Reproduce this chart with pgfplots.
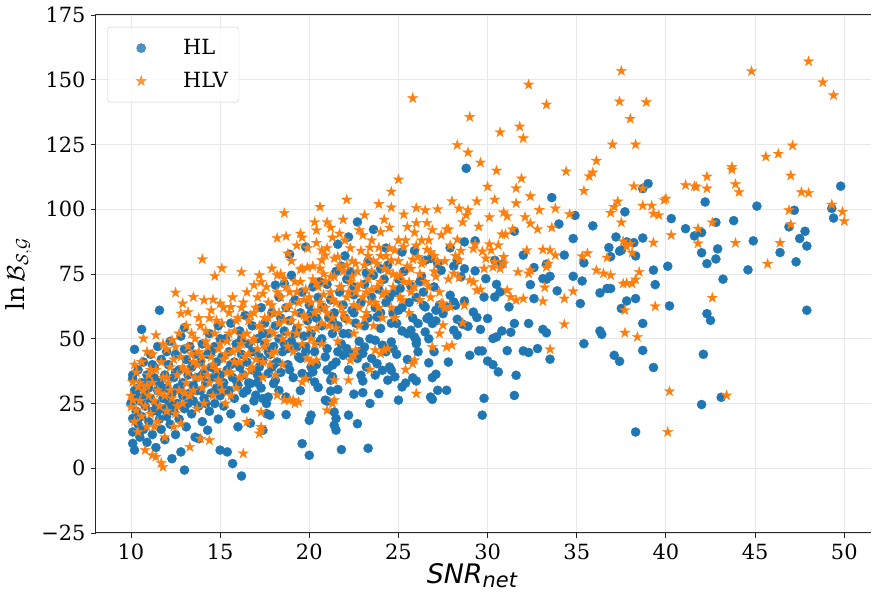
\documentclass[border=0pt]{standalone}
\usepackage{fontspec}
\setmainfont{DejaVu Serif}
\newfontfamily\dvs{DejaVu Sans}
\usepackage{pgfplots}
\pgfplotsset{compat=1.18}
\definecolor{tabblue}{HTML}{1F77B4}
\definecolor{taborange}{HTML}{FF7F0E}
\pgfdeclareplotmark{mstar}{%
  \pgfpathmoveto{\pgfpointpolar{90}{\pgfplotmarksize}}%
  \pgfpathlineto{\pgfpointpolar{126}{0.382\pgfplotmarksize}}%
  \pgfpathlineto{\pgfpointpolar{162}{\pgfplotmarksize}}%
  \pgfpathlineto{\pgfpointpolar{198}{0.382\pgfplotmarksize}}%
  \pgfpathlineto{\pgfpointpolar{234}{\pgfplotmarksize}}%
  \pgfpathlineto{\pgfpointpolar{270}{0.382\pgfplotmarksize}}%
  \pgfpathlineto{\pgfpointpolar{306}{\pgfplotmarksize}}%
  \pgfpathlineto{\pgfpointpolar{342}{0.382\pgfplotmarksize}}%
  \pgfpathlineto{\pgfpointpolar{18}{\pgfplotmarksize}}%
  \pgfpathlineto{\pgfpointpolar{54}{0.382\pgfplotmarksize}}%
  \pgfpathclose
  \pgfusepathqfillstroke
}
\begin{document}
\begin{tikzpicture}
\begin{axis}[
  scale only axis, width=775bp, height=518bp,
  xmin=8.04, xmax=51.5, ymin=-25, ymax=175,
  xtick={10,15,20,25,30,35,40,45,50},
  xticklabels={10,15,20,25,30,35,40,45,50},
  ytick={-25,0,25,50,75,100,125,150,175},
  yticklabels={−25,0,25,50,75,100,125,150,175},
  tick pos=left, tick align=outside, major tick length=5bp,
  tick style={black!85, line width=0.9bp},
  grid=major, grid style={black!9, line width=0.9bp},
  axis line style={draw=none},
  ticklabel style={font=\fontsize{21}{25}\selectfont},
  xticklabel style={yshift=-2bp},
  yticklabel style={xshift=-2bp},
  xlabel={{\dvs\itshape SNR\raisebox{-4bp}{\fontsize{21}{22}\selectfont net}}},
  xlabel style={at={(axis description cs:0.485,0)}, anchor=base, yshift=-50bp, inner sep=0pt, font=\fontsize{27}{30}\selectfont},
  ylabel={$\ln\mathcal{B}_{\mathcal{S},\mathcal{G}}$},
  ylabel style={at={(axis description cs:-0.1,0.5)}, anchor=center, font=\fontsize{25}{30}\selectfont},
  legend style={at={(axis description cs:0.0142,0.977)}, anchor=north west,
    draw=black!20, fill=white, fill opacity=0.8, draw opacity=1, text opacity=1,
    rounded corners=3bp, inner xsep=6bp, inner ysep=4.5bp,
    nodes={inner xsep=5bp, inner ysep=0pt}, column sep=9bp,
    font=\fontsize{21}{25}\selectfont},
  legend cell align=left,
  legend image code/.code={\path[draw=none,fill=none] (-28bp,-16.5bp) rectangle (28bp,16.5bp);
    \draw[#1] plot coordinates {(0bp,0bp)};},
  after end axis/.code={
    \draw[black!85, line width=1bp] (rel axis cs:1,1) -- (rel axis cs:0,1) -- (rel axis cs:0,0) -- (rel axis cs:1,0);
  },
]
\addplot[only marks, mark=*, mark size=4.6bp, color=tabblue, mark options={fill=tabblue, draw=tabblue, line width=0.3bp}] coordinates {
(10.0,25) (10.1,36) (10.1,34.6) (10.1,19.2) (10.1,14.0) (10.1,9.6) (10.2,7.0) (10.2,45.9) (10.6,53.6) (11.6,61.0)
(10.2,30) (10.3,22) (10.3,28) (10.4,17) (10.4,38) (10.5,12) (10.5,26) (10.6,33) (10.6,20) (10.7,41) (10.7,15)
(10.8,29) (10.8,24) (10.9,36) (10.9,10) (11.0,31) (11.0,18) (11.1,44) (11.1,27) (11.2,22) (11.2,13) (11.3,35)
(11.3,39) (11.4,25) (11.4,8) (11.5,30) (11.5,47) (11.6,19) (11.6,33) (11.7,15) (11.7,42) (11.8,27) (11.8,23)
(11.9,36) (11.9,11) (12.0,31) (12.0,20) (12.3,3.7) (12.8,6.3) (13.0,-0.7) (12.1,26) (12.1,40) (12.2,17) (12.2,49)
(12.3,29) (12.4,35) (12.4,22) (12.5,44) (12.5,13) (12.6,31) (12.6,25) (12.7,38) (12.7,19) (12.8,51) (12.9,28)
(12.9,33) (13.0,54.3) (13.0,23) (13.1,42) (13.1,16) (13.2,36) (13.3,29) (13.3,47) (13.4,21) (13.4,39) (13.5,32)
(13.5,26) (13.6,44) (13.6,12) (13.7,35) (13.8,11.4) (13.8,24) (13.9,41) (13.9,30) (14.0,18) (14.0,48) (14.1,37)
(14.1,27) (14.2,33) (14.3,14.7) (14.3,44) (14.4,22) (14.4,52) (14.5,39) (14.5,29) (14.6,35) (14.7,25) (14.7,47)
(14.8,31) (14.8,41) (14.9,19) (14.9,55) (15.0,7.0) (15.0,36) (15.0,28) (15.1,43) (15.2,33) (15.2,24) (15.3,50)
(15.4,6.3) (15.4,38) (15.5,30) (15.5,45) (15.6,21) (15.6,56) (15.7,1.8) (15.7,35) (15.8,41) (15.8,27) (15.9,48)
(16.0,32) (16.0,16) (16.1,39) (16.2,-3.0) (16.1,53) (16.2,44) (16.3,29) (16.3,36) (16.4,59) (16.4,23) (16.5,41)
(16.6,48) (16.6,33) (16.7,17.4) (16.7,32.7) (16.8,38) (16.8,55) (16.9,26) (17.0,28.2) (17.0,45) (17.1,50) (17.1,36)
(17.2,43) (17.2,39.1) (17.3,62) (17.3,31) (17.4,41.7) (17.4,14.7) (17.4,26.9) (17.5,48) (17.5,56) (17.6,21.1)
(17.6,25.0) (17.7,36.6) (17.7,27.5) (17.7,52) (17.8,20.5) (17.8,44) (17.9,60) (17.9,39) (18.0,32.7) (18.0,47)
(18.1,34.0) (18.1,70.7) (18.1,55) (18.2,41) (18.3,66.1) (18.3,50) (18.4,58) (18.4,37) (18.5,45) (18.6,71.3)
(18.6,53) (18.7,20.7) (18.7,27.5) (18.7,62) (18.8,46.2) (18.8,40) (18.9,82.6) (18.9,57) (19.0,74.5) (19.0,49)
(19.1,35) (19.2,65) (19.3,46.8) (19.3,54) (19.4,43) (19.5,42.4) (19.5,60) (19.6,9.5) (19.6,36.6) (19.6,68)
(19.7,51) (19.8,85.4) (19.8,47) (19.9,35.3) (19.9,57) (20.0,5.0) (20.0,18.5) (20.0,63) (20.1,20.5) (20.1,39.1)
(20.1,52) (20.2,37.2) (20.2,70) (20.3,33.3) (20.3,45) (20.4,58) (20.5,31.2) (20.5,66) (20.6,49) (20.7,55) (20.8,62)
(20.9,26.3) (20.9,43) (21.0,25.9) (21.0,46.2) (21.0,71) (21.1,58) (21.2,29.8) (21.2,34.0) (21.2,65) (21.3,35.3)
(21.3,39.8) (21.3,52) (21.4,16.6) (21.4,21.7) (21.4,60) (21.5,19.2) (21.5,41.0) (21.5,14.7) (21.5,76) (21.6,30.4)
(21.6,86.5) (21.6,55) (21.7,68) (21.8,7.2) (21.8,48) (21.9,43.6) (21.9,63) (22.0,58) (22.1,46.2) (22.1,73)
(22.2,20.5) (22.2,89.3) (22.2,52) (22.3,44.3) (22.3,75.8) (22.4,61) (22.5,28.6) (22.5,67) (22.6,56) (22.7,17.2)
(22.7,42.4) (22.7,95.1) (22.8,49) (22.9,35.9) (22.9,64) (23.0,29.2) (23.0,33.7) (23.0,44.3) (23.1,46.8) (23.1,71)
(23.2,39.1) (23.2,75.4) (23.3,7.7) (23.3,58) (23.4,25.0) (23.5,42.4) (23.5,66) (23.6,74.5) (23.6,92.2) (23.7,49.4)
(23.7,62) (23.8,40.4) (23.8,58.4) (23.9,28.8) (23.9,69) (24.0,54) (24.1,47.5) (24.1,37.8) (24.2,73) (24.3,64)
(24.4,34.0) (24.4,78.4) (24.5,39.1) (24.6,37.8) (24.6,48.8) (24.6,46.8) (24.7,46.2) (24.7,59.7) (24.8,35.3) (24.8,68)
(24.9,55.9) (25.0,26.3) (25.0,61.0) (25.1,69.4) (25.2,31.4) (25.2,53.0) (25.2,83.5) (25.3,76) (25.4,32.9) (25.5,52.0)
(25.6,64) (25.7,53.3) (25.7,70.3) (25.8,34.9) (25.9,50.7) (26.0,33.7) (26.0,48.1) (26.0,49.4) (26.1,55.9) (26.2,72)
(26.4,62.9) (26.5,52.6) (26.5,62.3) (26.5,80.3) (26.6,57.8) (26.7,40.7) (26.7,58.4) (26.8,27.5) (26.9,26.6) (26.9,35.0)
(26.9,55.9) (27.1,36.3) (27.1,56.9) (27.1,61.0) (27.2,30.1) (27.2,79.0) (27.4,76.4) (27.5,59.7) (27.7,30.1) (27.7,62.3)
(27.8,41.0) (27.9,66.8) (27.9,85.1) (28.1,53.3) (28.3,51.4) (28.1,64.2) (28.2,62.9) (28.7,64.6) (28.1,78.0) (28.3,80.3)
(28.5,73.9) (28.7,77.0) (28.3,57.5) (28.6,55.6) (28.9,54.8) (28.7,87.4) (29.3,87.8) (28.8,115.8) (29.0,43.6) (29.2,60.3)
(29.3,76.2) (29.4,58.2) (29.5,45.3) (29.7,45.3) (29.6,53.6) (29.7,20.5) (29.8,27.0) (29.8,66.1) (29.9,73.2) (30.0,41.4)
(30.0,57.8) (30.3,40.0) (30.3,50.1) (30.5,50.7) (30.4,66.1) (30.5,71.0) (30.6,37.2) (30.7,68.1) (30.8,53.0) (30.8,78.8)
(30.4,80.3) (31.1,45.4) (31.2,62.3) (31.3,52.5) (31.5,28.1) (31.5,55.9) (31.5,91.5) (31.6,35.9) (32.0,45.3) (32.0,82.3)
(32.3,44.7) (32.3,55.9) (32.4,70.9) (32.6,65.5) (32.6,77.5) (32.8,46.2) (33.1,53.6) (33.1,73.2) (33.3,52.3) (33.3,73.0)
(33.3,78.8) (33.5,42.1) (33.5,74.1) (33.6,104.5) (33.9,68.5) (34.0,94.3) (34.3,82.3) (34.8,74.1) (34.8,88.7) (34.9,97.6)
(35.2,63.6) (35.3,72.3) (35.4,48.1) (35.4,79.3) (35.9,93.6) (36.3,53.0) (36.3,67.7) (36.4,51.7) (36.7,69.4) (36.8,85.2)
(36.9,69.4) (36.9,81.7) (37.1,43.6) (37.2,89.3) (37.4,41.3) (37.4,83.8) (37.5,61.7) (37.5,84.2) (37.7,99.0) (37.8,64.6)
(37.8,87.4) (38.2,87.1) (38.3,14.0) (38.3,65.5) (38.3,82.0) (38.7,55.9) (38.7,45.5) (38.7,108.0) (38.7,88.9) (39.0,109.9)
(39.3,38.9) (39.3,76.5) (39.4,70.9) (40.1,78.0) (40.2,62.7) (40.3,96.4) (41.1,92.5) (41.6,89.7) (42.0,83.2) (42.0,91.0)
(42.0,24.6) (42.1,44.0) (42.2,102.8) (42.3,79.0) (42.3,59.7) (42.5,57.1) (42.8,94.9) (42.8,80.8) (42.9,84.7) (43.1,27.4)
(43.2,73.0) (43.8,95.6) (44.6,76.6) (44.9,87.8) (45.1,101.2) (46.4,83.3) (46.9,93.2) (47.2,99.6) (47.3,79.7) (47.5,88.7)
(47.8,91.5) (47.9,85.8) (47.9,61.0) (49.3,100.3) (49.4,96.6) (49.8,108.9)
(20.6,72) (21.8,78) (22.5,70) (23.3,80) (24.0,77) (25.0,73) (26.0,66) (27.0,70) (26.3,74) (24.5,66) (22.0,82) (24.3,85)
(25.9,84) (26.8,81)
(10.4,31) (10.7,26) (11.0,34) (11.2,40) (11.5,22) (11.8,31) (12.0,45) (12.3,24) (12.5,37) (12.8,30) (13.0,46) (13.2,25)
(13.5,40) (13.7,30) (14.0,36) (14.2,25) (14.5,45) (14.8,37) (15.0,50) (15.3,30) (15.6,40) (15.9,34) (16.2,50) (16.5,30)
(16.8,45) (17.1,33) (17.4,52) (17.7,45) (18.0,40) (18.3,30) (18.6,48) (18.9,38) (19.2,52) (19.5,30) (19.8,45) (20.1,60)
(20.4,40) (20.7,50) (21.0,38) (21.3,57) (21.6,45) (21.9,52) (22.2,38) (22.5,60) (22.8,45) (23.1,55) (23.4,50) (23.7,36)
(24.0,60) (24.3,45) (24.6,56) (24.9,44) (25.2,62) (25.5,42) (25.8,58) (26.1,45) (26.4,68) (26.7,50) (27.0,45) (27.3,63)
};
\addlegendentry{HL}
\addplot[only marks, mark=mstar, mark size=5.4bp, color=taborange, mark options={fill=taborange, draw=taborange, line width=0.3bp}] coordinates {
(10.0,28) (10.0,23.7) (10.1,26.3) (10.1,33.3) (10.2,18) (10.3,22.4) (10.3,37) (10.4,31.4) (10.4,14) (10.5,26) (10.6,41)
(10.6,20) (10.7,50.1) (10.7,30) (10.8,7.0) (10.8,24) (10.9,32.0) (10.9,16) (11.0,36) (11.0,28) (11.1,21) (11.2,5.0)
(11.2,44) (11.2,33) (11.3,26) (11.4,51.4) (11.4,4.4) (11.4,38) (11.5,18) (11.5,30) (11.6,24) (11.7,2.0) (11.7,41)
(11.8,0.5) (11.8,35) (11.9,28) (11.9,12) (12.0,46) (12.0,22) (12.1,33) (12.2,39) (12.3,49.4) (12.3,27) (12.4,16)
(12.5,46.8) (12.5,67.8) (12.5,21.1) (12.6,36) (12.7,30) (12.8,17.2) (12.8,59.7) (12.8,43) (12.9,63.6) (12.9,25) (13.0,38)
(13.1,33) (13.2,60.3) (13.2,47) (13.3,8.2) (13.3,28) (13.4,52) (13.5,66.1) (13.5,41) (13.6,35) (13.7,23) (13.8,45)
(13.9,11.4) (13.9,55) (14.0,80.7) (14.0,31) (14.1,64.9) (14.1,39) (14.2,49) (14.3,36) (14.4,10.8) (14.4,58) (14.5,43)
(14.6,65.1) (14.6,28) (14.7,74.2) (14.7,52) (14.8,38) (14.9,46) (15.0,63.6) (15.0,33) (15.1,77.2) (15.1,56) (15.2,42)
(15.3,25) (15.4,49) (15.5,60) (15.6,62.3) (15.6,37) (15.7,45) (15.8,53) (15.9,31) (16.0,58) (16.1,41) (16.2,75.8)
(16.2,48) (16.3,5.7) (16.3,64) (16.4,36) (16.5,17.9) (16.5,52) (16.6,44) (16.7,59) (16.8,39) (16.9,70.7) (16.9,50)
(17.0,62) (17.1,46) (17.2,13.4) (17.2,55) (17.2,74.5) (17.3,14.7) (17.3,15.9) (17.3,21.7) (17.3,71.9) (17.4,67.4)
(17.4,41) (17.5,58) (17.6,49) (17.7,64) (17.8,53) (17.9,77.1) (17.9,44) (18.0,60) (18.1,36) (18.2,28.2) (18.2,74.5)
(18.2,88.9) (18.3,56) (18.4,66) (18.5,50) (18.6,26.3) (18.6,73.2) (18.6,98.5) (18.7,89.6) (18.7,62) (18.8,82.9)
(18.8,47) (18.9,26.3) (18.9,68) (19.0,57) (19.1,26.3) (19.2,25.0) (19.2,72) (19.3,52) (19.4,25.6) (19.4,64)
(19.5,76.8) (19.5,90.6) (19.6,33.3) (19.6,77.1) (19.6,89.1) (19.7,59) (19.8,34.6) (19.8,69) (19.9,42.4) (19.9,77.5)
(20.0,54) (20.1,41.0) (20.1,64) (20.2,73) (20.3,48) (20.4,41.7) (20.4,71.3) (20.4,87.0) (20.4,91.9) (20.5,61) (20.6,77.1)
(20.6,100.9) (20.7,80.3) (20.7,84.2) (20.7,56) (20.8,67) (20.9,82.2) (20.9,72) (21.0,22.4) (21.0,60) (21.2,73.9)
(21.2,92.9) (21.3,25.0) (21.3,89.1) (21.3,65) (21.4,26.3) (21.4,34.0) (21.4,81.0) (21.5,54) (21.6,81.6) (21.7,90.6)
(21.7,70) (21.8,62) (21.9,76) (22.0,58) (22.1,78.4) (22.1,103.7) (22.2,34.0) (22.2,68) (22.3,41.7) (22.3,85) (22.4,74)
(22.5,43.6) (22.5,63) (22.6,45.6) (22.6,79) (22.7,70) (22.8,55) (22.9,84) (23.0,66) (23.1,78.4) (23.1,97.7) (23.2,60)
(23.3,73) (23.4,38.1) (23.4,85.2) (23.5,69) (23.6,80) (23.7,45.6) (23.7,64) (23.8,79.0) (23.9,85.2) (24.0,44.3)
(24.0,91.2) (24.0,72) (24.1,67) (24.2,45.6) (24.3,82) (24.4,46.2) (24.4,76) (24.5,92.9) (24.6,80.3) (24.6,100.7)
(24.6,106.8) (24.7,70) (24.8,84.2) (24.9,74) (25.0,111.5) (25.0,88) (25.1,74.5) (25.2,65) (25.3,85.4) (25.4,38.1)
(25.5,93.2) (25.5,78) (25.6,71.9) (25.7,68) (25.8,40.4) (25.8,80.6) (25.8,142.9) (25.9,41.7) (26.0,28.8) (26.0,94.7)
(26.0,100.5) (26.1,81.6) (26.2,75) (26.3,88.0) (26.4,79.7) (26.5,99.6) (26.6,84.4) (26.6,94.7) (26.7,70) (26.8,83.5)
(26.9,46.8) (27.0,76) (27.2,79.7) (27.3,52.0) (27.4,90.0) (27.4,63.6) (27.5,55.2) (27.5,63.6) (27.6,61.7) (27.7,46.8)
(27.7,92.3) (27.8,92.2) (27.9,62.3) (28.0,47.5) (28.0,103.1) (28.1,75.2) (28.3,88.3) (28.2,82.0) (28.3,124.8) (28.4,80.3)
(28.5,84.0) (28.4,100.3) (28.4,73.6) (28.6,95.0) (28.6,56.1) (28.7,62.9) (28.8,97.7) (28.9,121.9) (28.9,99.6) (29.0,72.6)
(29.0,135.6) (29.2,71.9) (29.2,84.8) (29.3,86.5) (29.4,68.7) (29.4,103.1) (29.5,93.3) (29.6,69.0) (29.7,83.7) (29.6,118.0)
(29.8,77.1) (29.9,81.0) (30.0,108.7) (30.1,86.5) (30.1,96.9) (30.2,84.2) (30.3,77.7) (30.4,79.7) (30.4,103.7) (30.5,114.9)
(30.6,86.1) (30.7,77.1) (30.7,129.7) (30.8,90.3) (30.9,79.0) (30.9,81.6) (30.9,98.8) (31.0,90.3) (31.1,68.7) (31.1,97.3)
(31.3,66.1) (31.4,92.2) (31.6,64.9) (31.6,102.3) (31.6,108.1) (31.7,75.8) (31.8,131.9) (31.9,111.9) (32.0,65.5) (32.0,127.4)
(32.1,97.0) (32.2,84.2) (32.3,75.2) (32.3,148.1) (32.4,76.4) (32.4,94.5) (32.4,105.0) (32.8,92.3) (32.9,99.7) (33.1,64.5)
(33.1,84.4) (33.2,69.8) (33.3,77.7) (33.3,140.4) (33.4,79.0) (33.5,45.9) (33.5,84.2) (33.6,92.9) (33.8,82.2) (33.8,100.3)
(34.3,55.6) (34.3,65.5) (34.4,114.6) (34.6,98.1) (34.8,68.3) (35.3,81.8) (35.4,107.1) (35.6,83.0) (35.7,112.7) (35.9,114.2)
(36.1,76.4) (36.1,118.7) (36.5,75.2) (36.7,81.3) (36.9,74.5) (36.9,98.6) (37.0,125.0) (37.1,100.9) (37.3,103.0) (37.4,141.6)
(37.5,94.9) (37.5,153.4) (37.6,71.3) (37.6,87.6) (37.7,52.3) (37.7,61.0) (37.8,85.6) (37.8,71.5) (38.0,86.6) (38.0,134.9)
(38.1,71.3) (38.1,83.2) (38.2,108.9) (38.3,72.9) (38.3,125.0) (38.4,50.7) (38.5,75.8) (38.7,101.4) (38.7,108.0) (38.9,141.3)
(39.2,101.4) (39.3,87.1) (39.3,98.3) (39.4,62.5) (39.6,97.7) (39.9,103.5) (40.0,104.1) (40.1,14.0) (40.2,29.7) (40.3,90.0)
(41.1,109.3) (41.6,108.9) (41.7,108.6) (41.8,86.8) (41.8,92.5) (42.3,108.0) (42.3,112.6) (42.6,65.8) (42.6,94.9) (43.4,28.1)
(43.7,115.3) (43.7,116.3) (43.9,87.0) (43.9,109.7) (44.1,106.6) (44.8,153.3) (45.6,120.3) (45.7,78.9) (46.3,121.4) (46.4,87.0)
(46.9,99.6) (47.0,94.1) (47.0,113.0) (47.1,124.6) (47.6,106.6) (48.0,106.3) (48.0,157.1) (48.8,149.0) (49.3,101.8) (49.4,144.0)
(49.9,99.0) (50.0,95.4)
(10.2,40) (10.5,33) (10.9,45) (11.1,38) (11.3,16) (11.6,29) (11.8,48) (12.0,35) (12.2,30) (12.4,42) (12.6,24) (12.7,52)
(12.9,39) (13.0,29) (13.1,55) (13.2,37) (13.4,44) (13.5,30) (13.6,50) (13.7,40) (13.8,58) (13.9,35) (14.0,43) (14.1,25)
(14.2,53) (14.3,47) (14.4,33) (14.5,61) (14.6,40) (14.8,57) (14.9,34) (15.0,48) (15.1,30) (15.2,62) (15.3,44) (15.4,37)
(15.5,52) (15.6,28) (15.7,66) (15.8,41) (15.9,57) (16.0,46) (16.1,35) (16.2,62) (16.3,51) (16.4,43) (16.5,68) (16.6,57)
(16.7,38) (16.8,49) (16.9,60) (17.0,42) (17.1,66) (17.3,54) (17.4,35) (17.5,47) (17.6,70) (17.7,58) (17.8,40) (17.9,63)
(18.0,52) (18.1,45) (18.2,68) (18.3,60) (18.4,75) (18.5,40) (18.6,57) (18.7,70) (18.8,52) (18.9,63) (19.0,80) (19.1,45)
(19.2,60) (19.3,68) (19.4,55) (19.5,72) (19.6,48) (19.7,65) (19.8,58) (19.9,85) (20.0,66) (20.1,50) (20.2,78) (20.3,60)
(20.4,54) (20.5,70) (20.6,64) (20.7,48) (20.8,75) (20.9,62) (21.0,85) (21.1,55) (21.2,68) (21.3,58) (21.4,74) (21.5,64)
(21.6,49) (21.7,78) (21.8,70) (21.9,60) (22.0,88) (22.1,66) (22.2,57) (22.3,72) (22.4,80) (22.5,52) (22.6,68) (22.7,76)
(22.8,62) (22.9,71) (23.0,90) (23.1,58) (23.2,68) (23.3,82) (23.4,64) (23.5,76) (23.6,55) (23.8,70) (23.9,62) (24.0,82)
(24.1,58) (24.2,77) (24.3,68) (24.5,85) (24.6,62) (24.7,75) (24.8,58) (25.0,80) (25.1,66) (25.3,72) (25.4,88) (25.6,60)
(25.7,77) (25.9,70) (26.0,86) (26.2,65) (26.3,79) (26.5,72) (26.7,88) (26.8,66) (27.0,82) (27.1,74) (27.3,68) (27.6,80)
(27.8,73) (27.9,86)
(20.3,95) (21.9,96) (22.8,92) (23.5,88) (24.2,96) (25.3,98) (25.9,91) (26.9,92) (27.2,100) (23.9,102) (21.0,95) (19.3,86)
};
\addlegendentry{HLV}
\end{axis}
\pgfresetboundingbox
\path ([xshift=-96bp,yshift=-59bp]current axis.south west) rectangle ([xshift=1bp,yshift=15bp]current axis.north east);
\end{tikzpicture}
\end{document}
